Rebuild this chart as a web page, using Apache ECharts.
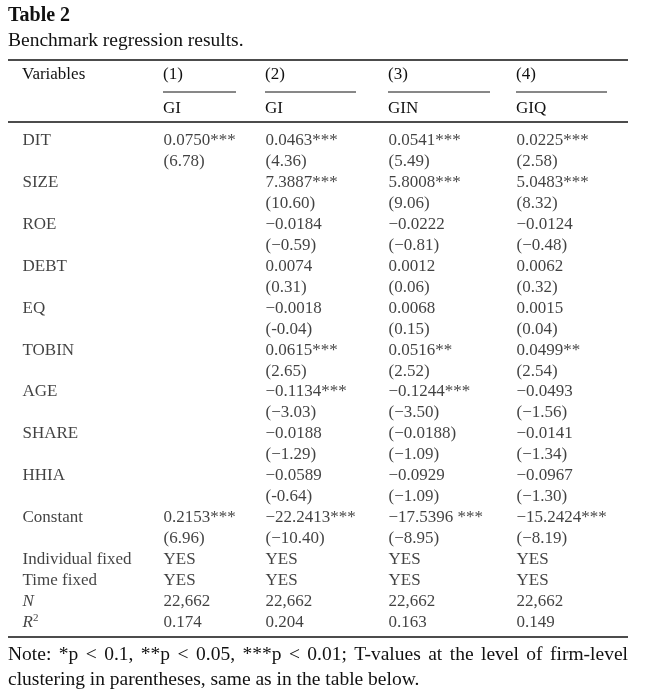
<!DOCTYPE html>
<html><head><meta charset="utf-8">
<script src="https://cdn.jsdelivr.net/npm/echarts@6/dist/echarts.min.js"></script>
<style>html,body{margin:0;padding:0;background:#fff}#c{width:645px;height:700px}</style>
</head><body><div id="c"></div>
<script>
// ---- data ----
const title = 'Table 2';
const subtitle = 'Benchmark regression results.';
const headerTop = ['Variables', '(1)', '(2)', '(3)', '(4)'];
const depVars = ['', 'GI', 'GI', 'GIN', 'GIQ'];
const variables = ['DIT', 'SIZE', 'ROE', 'DEBT', 'EQ', 'TOBIN', 'AGE', 'SHARE', 'HHIA', 'Constant'];
const coef1 = ['0.0750***', '', '', '', '', '', '', '', '', '0.2153***'];
const tval1 = ['(6.78)', '', '', '', '', '', '', '', '', '(6.96)'];
const coef2 = ['0.0463***', '7.3887***', '\u22120.0184', '0.0074', '\u22120.0018', '0.0615***', '\u22120.1134***', '\u22120.0188', '\u22120.0589', '\u221222.2413***'];
const tval2 = ['(4.36)', '(10.60)', '(\u22120.59)', '(0.31)', '(-0.04)', '(2.65)', '(\u22123.03)', '(\u22121.29)', '(-0.64)', '(\u221210.40)'];
const coef3 = ['0.0541***', '5.8008***', '\u22120.0222', '0.0012', '0.0068', '0.0516**', '\u22120.1244***', '(\u22120.0188)', '\u22120.0929', '\u221217.5396 ***'];
const tval3 = ['(5.49)', '(9.06)', '(\u22120.81)', '(0.06)', '(0.15)', '(2.52)', '(\u22123.50)', '(\u22121.09)', '(\u22121.09)', '(\u22128.95)'];
const coef4 = ['0.0225***', '5.0483***', '\u22120.0124', '0.0062', '0.0015', '0.0499**', '\u22120.0493', '\u22120.0141', '\u22120.0967', '\u221215.2424***'];
const tval4 = ['(2.58)', '(8.32)', '(\u22120.48)', '(0.32)', '(0.04)', '(2.54)', '(\u22121.56)', '(\u22121.34)', '(\u22121.30)', '(\u22128.19)'];
const statNames = ['Individual fixed', 'Time fixed', '{it|N}', '{it|R}{sup|2}'];
const stat1 = ['YES', 'YES', '22,662', '0.174'];
const stat2 = ['YES', 'YES', '22,662', '0.204'];
const stat3 = ['YES', 'YES', '22,662', '0.163'];
const stat4 = ['YES', 'YES', '22,662', '0.149'];
const noteLine1 = 'Note: *p < 0.1, **p < 0.05, ***p < 0.01; T-values at the level of firm-level';
const noteLine2 = 'clustering in parentheses, same as in the table below.';

// ---- layout (not data) ----
const colX = [22, 163, 265, 388, 516];
const ruleEnds = [0, 236, 356, 490, 607];
const FONT = '"Liberation Serif", "Times New Roman", serif';
const INK = '#111';
const BODY = 17;
const NOTE = 19.5;

// ---- build table rows ----
const coefs = [coef1, coef2, coef3, coef4];
const tvals = [tval1, tval2, tval3, tval4];
const stats = [stat1, stat2, stat3, stat4];
const rowIds = [];
const colCells = [[], [], [], [], []];
variables.forEach((v, i) => {
  const r1 = rowIds.length; rowIds.push('c' + i);
  const r2 = rowIds.length; rowIds.push('t' + i);
  colCells[0].push([colX[0], r1, v]);
  for (let c = 0; c < 4; c++) {
    if (coefs[c][i]) colCells[c + 1].push([colX[c + 1], r1, coefs[c][i]]);
    if (tvals[c][i]) colCells[c + 1].push([colX[c + 1], r2, tvals[c][i]]);
  }
});
statNames.forEach((s, i) => {
  const r = rowIds.length; rowIds.push('s' + i);
  colCells[0].push([colX[0], r, s]);
  for (let c = 0; c < 4; c++) colCells[c + 1].push([colX[c + 1], r, stats[c][i]]);
});

const rich = {
  it: { fontFamily: FONT, fontSize: BODY, fontStyle: 'italic', color: INK },
  sup: { fontFamily: FONT, fontSize: 11, color: INK, verticalAlign: 'top', padding: [0, 0, 8, 0] }
};

const series = colCells.map(cells => ({
  type: 'scatter',
  data: cells,
  symbolSize: 1,
  itemStyle: { color: 'rgba(0,0,0,0)' },
  silent: true,
  label: {
    show: true, position: 'right', distance: 0,
    formatter: p => p.data[2],
    fontFamily: FONT, fontSize: BODY, color: INK, rich: rich
  }
}));

const graphic = [];
graphic.push({ type: 'text', left: 8, top: 6, style: { text: title, font: 'bold 20px ' + FONT, fill: INK } });
graphic.push({ type: 'text', left: 8, top: 31, style: { text: subtitle, font: '19.5px ' + FONT, fill: INK } });
const hline = (x1, x2, y, w) => ({ type: 'line', shape: { x1: x1, y1: y, x2: x2, y2: y }, style: { stroke: INK, lineWidth: w } });
graphic.push(hline(8, 628, 60, 1.6));
graphic.push(hline(8, 628, 122, 1.6));
graphic.push(hline(8, 628, 637, 1.6));
headerTop.forEach((h, i) => {
  graphic.push({ type: 'text', x: colX[i], y: 75, style: { text: h, font: BODY + 'px ' + FONT, fill: INK, verticalAlign: 'middle' } });
  if (i > 0) {
    graphic.push(hline(colX[i], ruleEnds[i], 92, 1));
    graphic.push({ type: 'text', x: colX[i], y: 109, style: { text: depVars[i], font: BODY + 'px ' + FONT, fill: INK, verticalAlign: 'middle' } });
  }
});

// justified first note line
const ctx = document.createElement('canvas').getContext('2d');
ctx.font = NOTE + 'px ' + FONT;
const words = noteLine1.split(' ');
const widths = words.map(w => ctx.measureText(w).width);
const totalW = widths.reduce((a, b) => a + b, 0);
const gap = (620 - totalW) / (words.length - 1);
let xx = 8;
words.forEach((w, i) => {
  graphic.push({ type: 'text', x: xx, y: 655, style: { text: w, font: NOTE + 'px ' + FONT, fill: INK, verticalAlign: 'middle' } });
  xx += widths[i] + gap;
});
graphic.push({ type: 'text', x: 8, y: 680, style: { text: noteLine2, font: NOTE + 'px ' + FONT, fill: INK, verticalAlign: 'middle' } });

const chart = echarts.init(document.getElementById('c'), null, { renderer: 'canvas' });
chart.setOption({
  backgroundColor: '#fff',
  animation: false,
  grid: { left: 0, right: 0, top: 130.5, bottom: 67.5 },
  xAxis: { type: 'value', min: 0, max: 645, show: false },
  yAxis: { type: 'category', data: rowIds, inverse: true, show: false },
  series: series,
  graphic: graphic
});
</script></body></html>
